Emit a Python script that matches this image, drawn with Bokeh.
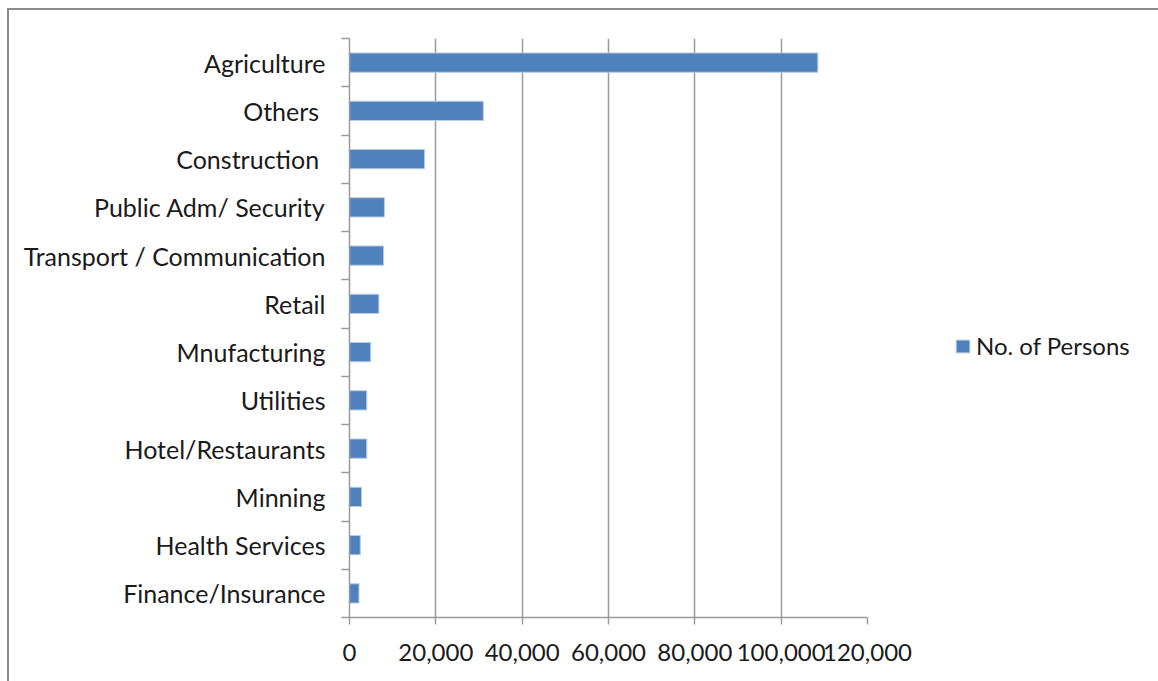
from bokeh.plotting import figure
from bokeh.models import (ColumnDataSource, FixedTicker, NumeralTickFormatter, Range1d,
                          Legend, LegendItem)
from bokeh.embed import file_html
from bokeh.resources import INLINE

categories = ["Agriculture", "Others ", "Construction ", "Public Adm/ Security",
              "Transport / Communication", "Retail", "Mnufacturing", "Utilities",
              "Hotel/Restaurants", "Minning", "Health Services", "Finance/Insurance"]
persons = [108500, 31000, 17400, 8100, 7900, 6800, 4900, 4000, 4000, 2800, 2500, 2200]
x_ticks = [0, 20000, 40000, 60000, 80000, 100000, 120000]
series_name = "No. of Persons"

n = len(categories)
ypos = [n - i - 0.5 for i in range(n)]
boundaries = list(range(n + 1))

FONT = "Lato"
FS = "24px"
TXT = "#1a1a1a"
GRAY = "#9a9a9a"
EDGE = "#8a8a8a"

src = ColumnDataSource(dict(cat=categories, val=persons, y=ypos))

p = figure(frame_width=518, frame_height=579, output_backend="svg", toolbar_location=None,
           x_range=Range1d(0, 120000), y_range=Range1d(0, n),
           min_border_left=349, min_border_right=0, min_border_top=38, min_border_bottom=64)
p.outline_line_color = None
p.background_fill_color = "white"
p.border_fill_alpha = 0
p.styles = {
    "background": (f"linear-gradient({EDGE},{EDGE}) 7px 8px / 2px 100% no-repeat, "
                   f"linear-gradient({EDGE},{EDGE}) 7px 8px / 100% 2px no-repeat, white"),
}

r = p.hbar(y="y", right="val", left=0, height=0.4, source=src,
           fill_color="#4F81BD", line_color="#B9CDE5", line_width=1)

# x axis
p.xaxis.ticker = FixedTicker(ticks=x_ticks, minor_ticks=[])
p.xaxis.formatter = NumeralTickFormatter(format="0,0")
p.xaxis.axis_line_color = GRAY
p.xaxis.axis_line_width = 1.5
p.xaxis.major_tick_line_color = GRAY
p.xaxis.major_tick_line_width = 1.5
p.xaxis.major_tick_out = 7
p.xaxis.major_tick_in = 0
p.xaxis.major_label_standoff = 19
p.xaxis.major_label_text_font = FONT
p.xaxis.major_label_text_font_size = FS
p.xaxis.major_label_text_color = TXT

# y axis: labels at centres, ticks at boundaries
p.yaxis.ticker = FixedTicker(ticks=ypos, minor_ticks=boundaries)
p.yaxis.major_label_overrides = {y: c for y, c in zip(ypos, categories)}
p.yaxis.axis_line_color = GRAY
p.yaxis.axis_line_width = 1.5
p.yaxis.major_tick_out = 0
p.yaxis.major_tick_in = 0
p.yaxis.minor_tick_out = 8
p.yaxis.minor_tick_in = 0
p.yaxis.minor_tick_line_color = GRAY
p.yaxis.minor_tick_line_width = 1.5
p.yaxis.major_label_standoff = 16
p.yaxis.major_label_text_font = FONT
p.yaxis.major_label_text_font_size = "25px"
p.yaxis.major_label_text_color = TXT

p.xgrid.grid_line_color = GRAY
p.xgrid.grid_line_width = 1.5
p.ygrid.grid_line_color = None

legend = Legend(items=[LegendItem(label=series_name, renderers=[r])],
                location=(87, 617 - 360), padding=0, margin=0,
                border_line_alpha=0, background_fill_alpha=0,
                glyph_width=17, glyph_height=16, label_height=20, label_standoff=5,
                label_text_font=FONT, label_text_font_size=FS, label_text_color=TXT)
p.add_layout(legend, "right")

open("out.html", "w").write(file_html(p, INLINE))
